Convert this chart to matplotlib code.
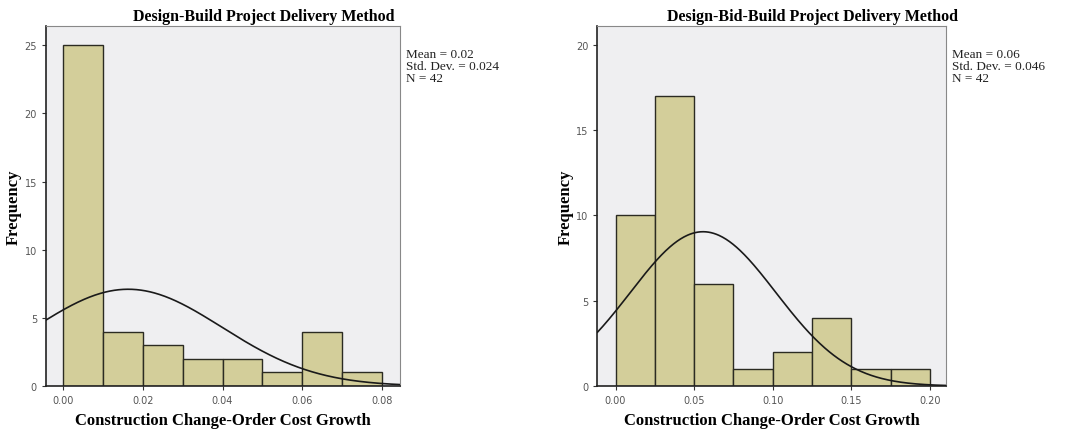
import numpy as np
import matplotlib.pyplot as plt

# Design-Build histogram (bin width 0.01)
db_edges = [0.00, 0.01, 0.02, 0.03, 0.04, 0.05, 0.06, 0.07, 0.08]
db_counts = [25, 4, 3, 2, 2, 1, 4, 1]
db_mean, db_std, db_n = 0.0163, 0.0236, 42
db_stats = "Mean = 0.02\nStd. Dev. = 0.024\nN = 42"

# Design-Bid-Build histogram (bin width 0.025)
dbb_edges = [0.000, 0.025, 0.050, 0.075, 0.100, 0.125, 0.150, 0.175, 0.200]
dbb_counts = [10, 17, 6, 1, 2, 4, 1, 1]
dbb_mean, dbb_std, dbb_n = 0.0557, 0.0463, 42
dbb_stats = "Mean = 0.06\nStd. Dev. = 0.046\nN = 42"

serif = ['Liberation Serif', 'DejaVu Serif']
bar_color = '#d3ce9a'
bg = '#efeff1'

fig = plt.figure(figsize=(10.65, 4.31), dpi=100)


def panel(rect, edges, counts, mean, sd, n, stats, title, xlim, ylim, xticks, yticks, xfmt):
    ax = fig.add_axes(rect)
    ax.set_facecolor(bg)
    widths = np.diff(edges)
    ax.bar(edges[:-1], counts, width=widths, align='edge', color=bar_color,
           edgecolor='#2b2b22', linewidth=1.0, zorder=2)
    xs = np.linspace(xlim[0], xlim[1], 400)
    w = widths[0]
    ys = n * w / (sd * np.sqrt(2 * np.pi)) * np.exp(-0.5 * ((xs - mean) / sd) ** 2)
    ax.plot(xs, ys, color='#1a1a1a', linewidth=1.2, zorder=3)
    ax.set_xlim(*xlim)
    ax.set_ylim(*ylim)
    ax.set_xticks(xticks)
    ax.set_xticklabels([xfmt.format(t) for t in xticks])
    ax.set_yticks(yticks)
    ax.tick_params(labelsize=7, colors='#333333', length=3, width=0.8, labelcolor='#555555')
    for s in ['top', 'right']:
        ax.spines[s].set_color('#888888')
    for s in ['left', 'bottom']:
        ax.spines[s].set_color('#222222')
        ax.spines[s].set_linewidth(1.2)
    ax.set_xlabel('Construction Change-Order Cost Growth', fontfamily=serif,
                  fontweight='bold', fontsize=12, labelpad=5)
    ax.set_ylabel('Frequency', fontfamily=serif, fontweight='bold', fontsize=12, labelpad=2)
    ax.text(0.615, 1.005, title, transform=ax.transAxes, ha='center', va='bottom',
            fontfamily=serif, fontweight='bold', fontsize=11.5)
    ax.text(1.017, 0.94, stats, transform=ax.transAxes, ha='left', va='top',
            fontfamily=serif, fontsize=9.5, color='#222222', linespacing=1.0)
    return ax


panel([0.0432, 0.102, 0.3324, 0.835], db_edges, db_counts, db_mean, db_std, db_n,
      db_stats, 'Design-Build Project Delivery Method', (-0.00435, 0.0846), (0, 26.4),
      [0.00, 0.02, 0.04, 0.06, 0.08], [0, 5, 10, 15, 20, 25], '{:.2f}')

panel([0.561, 0.102, 0.3277, 0.835], dbb_edges, dbb_counts, dbb_mean, dbb_std, dbb_n,
      dbb_stats, 'Design-Bid-Build Project Delivery Method', (-0.0115, 0.2106), (0, 21.1),
      [0.00, 0.05, 0.10, 0.15, 0.20], [0, 5, 10, 15, 20], '{:.2f}')

fig.savefig('out.png', dpi=100)
